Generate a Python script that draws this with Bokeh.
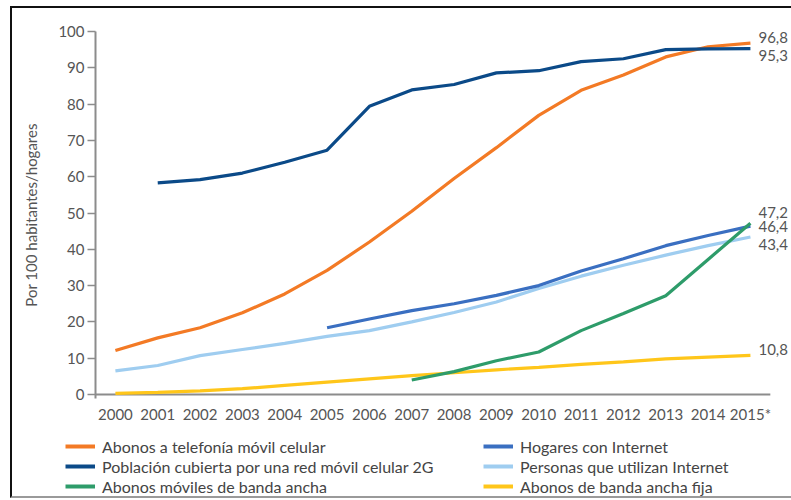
from bokeh.plotting import figure
from bokeh.layouts import column, row
from bokeh.models import (ColumnDataSource, Legend, LegendItem, FixedTicker, Range1d)
from bokeh.core.properties import value
from bokeh.embed import file_html
from bokeh.resources import INLINE

# ICT indicators per 100 inhabitants / households, 2000-2015*
years = list(range(2000, 2016))
tick_labels = [str(y) for y in years[:-1]] + ["2015*"]

movil_celular = [12.1, 15.6, 18.4, 22.5, 27.7, 34.2, 42.0, 50.5, 59.5, 68.0, 76.9, 83.8, 88.0, 93.0, 95.8, 96.8]
poblacion_2g_years = list(range(2001, 2016))
poblacion_2g = [58.3, 59.2, 61.0, 64.0, 67.3, 79.4, 83.9, 85.4, 88.6, 89.2, 91.7, 92.5, 95.0, 95.2, 95.3]
banda_movil_years = list(range(2007, 2016))
banda_movil = [4.0, 6.3, 9.3, 11.7, 17.6, 22.3, 27.2, 37.2, 47.2]
hogares_years = list(range(2005, 2016))
hogares = [18.4, 20.8, 23.1, 25.0, 27.3, 30.0, 34.0, 37.4, 41.0, 43.8, 46.4]
personas = [6.5, 8.0, 10.7, 12.4, 14.1, 16.0, 17.6, 20.0, 22.6, 25.5, 29.2, 32.6, 35.6, 38.4, 41.0, 43.4]
banda_fija = [0.3, 0.6, 1.0, 1.6, 2.5, 3.4, 4.3, 5.2, 6.0, 6.8, 7.5, 8.3, 9.0, 9.8, 10.3, 10.8]

end_labels = ["96,8", "95,3", "47,2", "46,4", "43,4", "10,8"]
end_values = [96.8, 95.3, 47.2, 46.4, 43.4, 10.8]
end_shift = [-6, 7, -11, 0, 8, -6]

series_names = [
    "Abonos a telefonía móvil celular",
    "Población cubierta por una red móvil celular 2G",
    "Abonos móviles de banda ancha",
    "Hogares con Internet",
    "Personas que utilizan Internet",
    "Abonos de banda ancha fija",
]
series_colors = ["#F37A25", "#0B4A88", "#2E9C6A", "#3A6FC1", "#9FCDF0", "#FFC61A"]

FONT = "Lato"
TXT = "#555555"
X0, X1 = 1999.53, 2015.97
LW = 3.2

p = figure(width=779, height=417, output_backend="svg", toolbar_location=None,
           x_range=Range1d(X0, X1), y_range=Range1d(-1.1, 100),
           min_border_left=83, min_border_right=0, min_border_top=23,
           min_border_bottom=27)
p.outline_line_color = None
p.grid.visible = False

# zero line standing in for the x axis
p.segment(x0=[X0], y0=[0], x1=[2015.47], y1=[0], line_color="#8c8c8c", line_width=2)

(c_mov, c_2g, c_bm, c_hog, c_pers, c_fija) = series_colors
p.line(years, banda_fija, color=c_fija, line_width=LW)
p.line(years, personas, color=c_pers, line_width=LW)
p.line(hogares_years, hogares, color=c_hog, line_width=LW)
p.line(banda_movil_years, banda_movil, color=c_bm, line_width=LW)
p.line(years, movil_celular, color=c_mov, line_width=LW)
p.line(poblacion_2g_years, poblacion_2g, color=c_2g, line_width=LW)

# value labels at the 2015 end of each series
src = ColumnDataSource(dict(x=[2015] * len(end_values), y=end_values,
                            t=end_labels, dy=end_shift))
p.text(x="x", y="y", text="t", source=src, x_offset=8, y_offset="dy",
       text_font=value(FONT), text_font_size="15px", text_color=TXT,
       text_align="left", text_baseline="middle")

# y axis
ya = p.yaxis[0]
ya.ticker = FixedTicker(ticks=list(range(0, 101, 10)))
ya.axis_line_color = "#8c8c8c"
ya.axis_line_width = 2
ya.major_tick_line_color = "#8c8c8c"
ya.major_tick_line_width = 1.5
ya.major_tick_out = 8
ya.major_tick_in = 0
ya.minor_tick_line_color = None
ya.major_label_text_font = FONT
ya.major_label_text_font_size = "15px"
ya.major_label_text_color = TXT
ya.major_label_standoff = 3
ya.axis_label = "Por 100 habitantes/hogares"
ya.axis_label_text_font = FONT
ya.axis_label_text_font_style = "normal"
ya.axis_label_text_font_size = "15px"
ya.axis_label_text_color = TXT
ya.axis_label_standoff = 15

# x axis
xa = p.xaxis[0]
xa.ticker = FixedTicker(ticks=years)
xa.major_label_overrides = {y: lab for y, lab in zip(years, tick_labels)}
xa.axis_line_color = None
xa.major_tick_line_color = None
xa.minor_tick_line_color = None
xa.major_label_text_font = FONT
xa.major_label_text_font_size = "15px"
xa.major_label_text_color = TXT
xa.major_label_standoff = 0

# legend strip below the chart, two columns of three entries;
# its key lines sit outside the strip's visible range
lg = figure(width=779, height=71, output_backend="svg", toolbar_location=None,
            x_range=Range1d(0, 1), y_range=Range1d(0, 1),
            x_axis_type=None, y_axis_type=None,
            min_border_left=0, min_border_right=0, min_border_top=0, min_border_bottom=0)
lg.outline_line_color = None
lg.grid.visible = False
swatches = [lg.line([0, 1], [-1, -1], color=c, line_width=4) for c in series_colors]

for idx, loc in ((range(0, 3), (53, 0)), (range(3, 6), (471, 0))):
    legend = Legend(items=[LegendItem(label=series_names[i], renderers=[swatches[i]]) for i in idx],
                    location=loc, orientation="vertical",
                    label_text_font=FONT, label_text_font_size="16px",
                    label_text_color="#444444", glyph_width=30, glyph_height=20,
                    label_height=20, label_standoff=7, spacing=0, padding=0, margin=0,
                    border_line_color=None, background_fill_alpha=0)
    lg.add_layout(legend, "center")

page = column(p, row(lg), spacing=0)
page.styles = {"margin-left": "10px", "margin-top": "6px",
               "border-left": "2px solid #111111", "border-top": "2px solid #111111",
               "border-bottom": "2px solid #9a9a9a"}

open("out.html", "w").write(file_html(page, INLINE))
